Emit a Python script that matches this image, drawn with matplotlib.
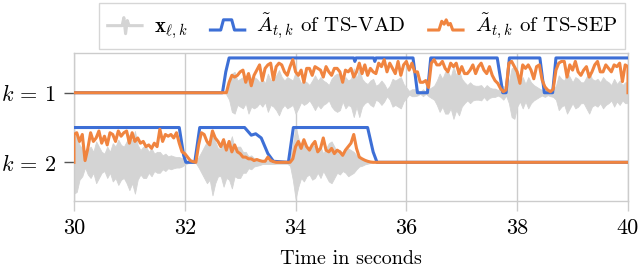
import numpy as np
import matplotlib
matplotlib.use("Agg")
import matplotlib.pyplot as plt
from matplotlib.lines import Line2D
from matplotlib.legend_handler import HandlerBase

plt.rcParams["font.family"] = "serif"
plt.rcParams["font.serif"] = ["cmr10", "DejaVu Serif"]
plt.rcParams["mathtext.fontset"] = "cm"
plt.rcParams["axes.formatter.use_mathtext"] = True

# time grid of the traces (seconds per sample)
step = 0.05

# speaker k=1: TS-SEP activity and waveform envelope, starting at 32.75 s
sep1_start = 32.75
sep1 = [0.0, 0.3, 0.5, 0.45, 0.5, 0.6, 0.65, 0.3, 0.55, 0.2,
        0.5, 0.65, 0.8, 0.35, 0.7, 0.8, 0.85, 0.37, 0.75, 0.85,
        0.8, 0.6, 0.5, 0.75, 0.95, 0.6, 0.5, 0.65, 0.3, 0.7,
        0.7, 0.5, 0.75, 0.7, 0.65, 0.45, 0.75, 0.6, 0.5, 0.7,
        0.7, 0.6, 0.3, 0.65, 0.6, 0.7, 0.45, 0.6, 0.85, 0.55,
        0.8, 0.5, 0.7, 0.6, 0.55, 0.85, 0.75, 0.95, 0.6, 0.85,
        0.7, 0.55, 0.9, 0.5, 0.8, 0.9, 0.65, 0.85, 0.6, 0.6,
        0.3, 0.3, 0.35, 0.15, 0.85, 0.95, 0.8, 0.8, 0.9, 0.7,
        0.6, 0.85, 0.75, 0.85, 0.55, 0.75, 0.55, 0.55, 0.65, 0.8,
        0.55, 0.75, 0.85, 0.65, 0.55, 0.75, 0.5, 0.35, 0.27, 0.12,
        0.03, 0.08, 0.85, 0.9, 0.75, 0.6, 0.27, 0.8, 0.7, 0.8,
        0.65, 0.4, 0.75, 0.8, 0.37, 0.17, 0.08, 0.03, 0.1, 0.65,
        0.85, 0.9, 0.9, 0.45, 0.8, 0.65, 0.9, 0.6, 0.5, 0.65,
        0.75, 0.45, 0.6, 0.8, 0.9, 0.6, 0.6, 0.8, 0.7, 0.6,
        0.8, 0.75, 0.85, 0.32, 0.8, 0.75]
wav1 = [0.05, 0.2, 0.55, 0.6, 0.35, 0.4, 0.45, 0.3, 0.6, 0.4,
        0.45, 0.4, 0.3, 0.4, 0.27, 0.55, 0.35, 0.4, 0.5, 0.65,
        0.45, 0.35, 0.45, 0.4, 0.35, 0.6, 0.45, 0.27, 0.35, 0.3,
        0.22, 0.35, 0.5, 0.35, 0.45, 0.35, 0.3, 0.22, 0.4, 0.5,
        0.55, 0.5, 0.25, 0.45, 0.35, 0.4, 0.7, 0.4, 0.7, 0.4,
        0.3, 0.25, 0.35, 0.4, 0.2, 0.25, 0.35, 0.25, 0.1, 0.2,
        0.4, 0.35, 0.4, 0.45, 0.25, 0.15, 0.05, 0.1, 0.1, 0.08,
        0.03, 0.1, 0.03, 0.1, 0.15, 0.2, 0.35, 0.55, 0.4, 0.6,
        0.6, 0.45, 0.75, 0.5, 0.65, 0.4, 0.3, 0.22, 0.3, 0.22,
        0.2, 0.2, 0.22, 0.12, 0.22, 0.15, 0.12, 0.12, 0.08, 0.12,
        0.2, 0.08, 0.3, 0.7, 0.75, 0.4, 0.25, 0.45, 0.25, 0.45,
        0.3, 0.22, 0.17, 0.12, 0.08, 0.12, 0.07, 0.1, 0.12, 0.2,
        0.5, 0.4, 0.35, 0.6, 0.45, 0.3, 0.45, 0.4, 0.3, 0.3,
        0.45, 0.6, 0.4, 0.35, 0.4, 0.3, 0.45, 0.35, 0.3, 0.22,
        0.4, 0.25, 0.35, 0.22, 0.3, 0.3]

# speaker k=2: starting at 30.0 s
sep2_start = 30.0
sep2 = [0.8, 0.85, 0.6, 0.8, 0.05, 0.4, 0.85, 0.6, 0.7, 0.9,
        0.55, 0.75, 0.5, 0.85, 0.8, 0.6, 0.9, 0.75, 0.85, 0.9,
        0.55, 0.85, 0.6, 0.7, 0.55, 0.6, 0.45, 0.5, 0.4, 0.55,
        0.45, 0.95, 0.6, 0.8, 0.75, 0.8, 0.7, 0.85, 0.55, 0.3,
        0.25, 0.15, 0.05, 0.02, 0.0, 0.5, 0.85, 0.8, 0.6, 0.5,
        0.9, 0.7, 0.6, 0.45, 0.65, 0.35, 0.6, 0.3, 0.5, 0.3,
        0.25, 0.15, 0.15, 0.1, 0.1, 0.05, 0.08, 0.05, 0.03, 0.03,
        0.15, 0.05, 0.02, 0.0, 0.0, 0.0, 0.0, 0.0, 0.0, 0.1,
        0.45, 0.6, 0.4, 0.65, 0.45, 0.35, 0.5, 0.6, 0.3, 0.4,
        0.7, 0.35, 0.3, 0.4, 0.25, 0.35, 0.3, 0.2, 0.35, 0.45,
        0.55, 0.8, 0.4, 0.15, 0.1, 0.06, 0.03, 0.01, 0.0]
wav2 = [0.9, 0.85, 0.5, 0.4, 0.15, 0.35, 0.45, 0.3, 0.6, 0.45,
        0.3, 0.25, 0.45, 0.3, 0.55, 0.45, 0.65, 0.5, 0.45, 0.6,
        0.8, 0.6, 0.9, 0.5, 0.35, 0.45, 0.45, 0.3, 0.4, 0.25,
        0.3, 0.3, 0.2, 0.25, 0.17, 0.2, 0.17, 0.15, 0.15, 0.12,
        0.07, 0.03, 0.02, 0.02, 0.02, 0.15, 0.3, 0.45, 0.6, 0.5,
        0.95, 0.6, 0.4, 0.4, 0.7, 0.45, 0.5, 0.75, 0.4, 0.45,
        0.45, 0.3, 0.3, 0.17, 0.2, 0.12, 0.1, 0.08, 0.05, 0.05,
        0.05, 0.05, 0.05, 0.04, 0.04, 0.04, 0.04, 0.04, 0.1, 0.5,
        1.05, 0.7, 0.45, 0.55, 0.4, 0.35, 0.5, 0.45, 0.3, 0.45,
        0.25, 0.4, 0.55, 0.6, 0.45, 0.3, 0.35, 0.25, 0.3, 0.4,
        0.35, 0.3, 0.2, 0.12, 0.1, 0.06, 0.04, 0.02, 0.0]

# TS-VAD activity as breakpoints (time, value)
vad1_t = [30, 32.68, 32.74, 32.80, 35.05, 35.07, 35.09, 35.41, 35.43, 35.45,
          36.12, 36.20, 36.38, 36.44, 37.64, 37.74, 37.80, 37.86, 38.41, 38.49,
          38.64, 38.70, 40]
vad1_v = [0, 0, 0.6, 1, 1, 0.9, 1, 1, 0.9, 1,
          1, 0, 0, 1, 1, 0, 0, 1, 1, 0,
          0, 1, 1]
vad2_t = [30, 31.90, 31.98, 32.02, 32.18, 32.27, 33.08, 33.20, 33.28, 33.38,
          33.50, 33.60, 33.87, 33.96, 35.30, 35.40, 35.47, 40]
vad2_v = [1, 1, 0.2, 0, 0, 1, 1, 0.78, 0.82, 0.7,
          0.25, 0.03, 0, 1, 1, 0.3, 0, 0]

c_wav = "#d4d4d4"
c_vad = "#3d6fd6"
c_sep = "#f0843f"
c_grid = "#cccccc"


class HandlerShape(HandlerBase):
    """Draws a small polyline icon instead of the default legend line."""
    def __init__(self, xs, ys):
        super().__init__()
        self.xs = np.array(xs)
        self.ys = np.array(ys)

    def create_artists(self, legend, orig_handle, xdescent, ydescent,
                       width, height, fontsize, trans):
        x = -xdescent + width * self.xs
        y = -ydescent + height * self.ys
        line = Line2D(x, y, color=orig_handle.get_color(),
                      lw=orig_handle.get_linewidth(), solid_joinstyle="round")
        line.set_transform(trans)
        return [line]


fig = plt.figure(figsize=(6.4, 2.69), dpi=100)
ax = fig.add_axes([0.1156, 0.2546, 0.8656, 0.5502])

for k, start, wav in [(1, sep1_start, wav1), (2, sep2_start, wav2)]:
    t = start + step * np.arange(len(wav))
    w = np.array(wav)
    ax.fill_between(t, k - 0.5 * w, k + 0.5 * w, color=c_wav, lw=0.6,
                    edgecolor=c_wav, zorder=2)

for k, vt, vv in [(1, vad1_t, vad1_v), (2, vad2_t, vad2_v)]:
    ax.plot(vt, k - 0.5 * np.array(vv), color=c_vad, lw=2.2,
            solid_joinstyle="round", zorder=3)

for k, start, sep in [(1, sep1_start, sep1), (2, sep2_start, sep2)]:
    t = start + step * np.arange(len(sep))
    t = np.concatenate([[30.0], t, [40.0]])
    a = np.concatenate([[0.0], sep, [0.0]])
    ax.plot(t, k - 0.5 * a, color=c_sep, lw=2.2, solid_joinstyle="round",
            zorder=4)

ax.set_xlim(30, 40)
ax.set_ylim(2.549, 0.422)
ax.set_xticks(range(30, 41, 2))
ax.set_xticklabels([str(v) for v in range(30, 41, 2)])
ax.set_yticks([1, 2])
ax.set_yticklabels([r"$k\,=\,1$", r"$k\,=\,2$"])
ax.set_xlabel("Time in seconds", fontsize=14.5, labelpad=8.5)
ax.tick_params(axis="x", colors=c_grid, labelcolor="black", length=7,
               width=1, labelsize=16, pad=6)
ax.tick_params(axis="y", colors="#555555", labelcolor="black", length=7,
               width=1, labelsize=16, pad=6)
ax.grid(axis="x", color=c_grid, lw=1)
ax.set_axisbelow(True)
for s in ax.spines.values():
    s.set_color(c_grid)
    s.set_linewidth(1)

h_wav = Line2D([], [], color=c_wav, lw=2.2)
h_vad = Line2D([], [], color=c_vad, lw=2.2)
h_sep = Line2D([], [], color=c_sep, lw=2.2)
hmap = {
    h_wav: HandlerShape([0, 0.42, 0.47, 0.52, 0.57, 0.62, 1],
                        [0.45, 0.45, 1.0, -0.1, 0.8, 0.45, 0.45]),
    h_vad: HandlerShape([0, 0.3, 0.38, 0.62, 0.7, 1],
                        [0.15, 0.15, 0.85, 0.85, 0.15, 0.15]),
    h_sep: HandlerShape([0, 0.3, 0.38, 0.45, 0.51, 0.57, 0.63, 0.7, 1],
                        [0.15, 0.15, 0.75, 0.55, 0.85, 0.5, 0.6, 0.15, 0.15]),
}
leg = fig.legend([h_wav, h_vad, h_sep],
                 [r"$\mathbf{x}_{\ell,k}$", r"$\tilde{A}_{t,k}$ of TS-VAD",
                  r"$\tilde{A}_{t,k}$ of TS-SEP"],
                 handler_map=hmap, ncol=3, loc="upper center",
                 bbox_to_anchor=(0.566, 0.989), borderaxespad=0, fontsize=15,
                 frameon=True, fancybox=False, edgecolor=c_grid,
                 handlelength=1.65, handletextpad=0.55, columnspacing=1.1,
                 borderpad=0.4)
leg.get_frame().set_linewidth(1)

fig.savefig("out.png", dpi=100)
